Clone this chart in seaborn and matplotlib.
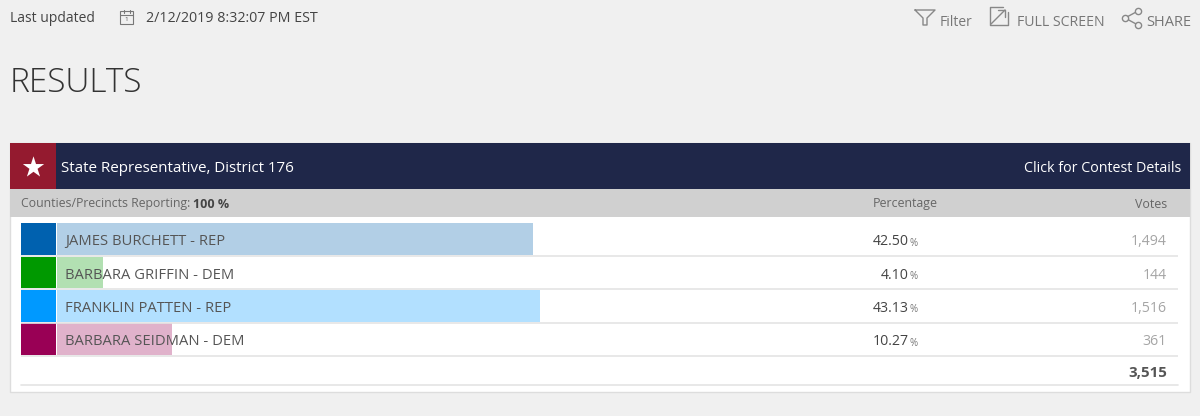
#!/usr/bin/env python3
# -*- coding: utf-8 -*-
"""Election results panel: State Representative, District 176"""

import pandas as pd
import seaborn as sns
import matplotlib.pyplot as plt
from matplotlib.patches import Rectangle

# ============================================================================
# 1. DATA
# ============================================================================
candidates = ["JAMES BURCHETT - REP", "BARBARA GRIFFIN - DEM",
              "FRANKLIN PATTEN - REP", "BARBARA SEIDMAN - DEM"]
percentages = [42.50, 4.10, 43.13, 10.27]
votes = ["1,494", "144", "1,516", "361"]
total_votes = "3,515"
swatch_colors = ["#0061AF", "#009900", "#0099FF", "#990055"]

WIDTH, HEIGHT = 1200, 416
BG = "#F0F0F0"
TEXT = "#555555"

sns.set_theme(style="white")
plt.rcParams['font.family'] = ['Open Sans', 'DejaVu Sans']

fig = plt.figure(figsize=(WIDTH / 100, HEIGHT / 100), dpi=100, facecolor=BG)

# ============================================================================
# 2. PAGE CHROME (pixel coordinates)
# ============================================================================
page = fig.add_axes([0, 0, 1, 1])
page.set_xlim(0, WIDTH)
page.set_ylim(HEIGHT, 0)
page.axis("off")


def box(x0, y0, x1, y1, color, **kw):
    page.add_patch(Rectangle((x0, y0), x1 - x0, y1 - y0, facecolor=color,
                             edgecolor=kw.pop("edgecolor", "none"), **kw))


page.text(10, 19, "Last updated", fontsize=10, color="#444444", va="center")
page.text(146, 19, "2/12/2019 8:32:07 PM EST", fontsize=10.3, color="#444444", va="center")
page.text(10, 83, "RESULTS", fontsize=24, color="#333333", va="center",
          family=["Open Sans"], fontweight="light")

# calendar icon
icon = dict(color="#777777", lw=0.8)
box(120, 11, 133, 23.5, "none", edgecolor="#777777", linewidth=0.8)
page.plot([120, 133], [14.5, 14.5], **icon)
page.plot([123.5, 123.5], [10, 12.5], **icon)
page.plot([129.5, 129.5], [10, 12.5], **icon)
page.text(126.5, 19.5, "1", fontsize=4.5, color="#555555", ha="center", va="center")

# filter icon
page.plot([915, 935, 927, 927, 923, 923, 915], [10, 10, 18, 25, 25, 18, 10], color="#888888", lw=1)
page.text(940, 22, "Filter", fontsize=10, color="#777777", va="center")

# full screen icon
page.plot([1003, 990, 990, 1008, 1008], [7, 7, 25, 25, 12], color="#888888", lw=1)
page.plot([991, 1005], [24, 10], color="#888888", lw=1)
page.plot([998, 1005, 1005], [10, 10, 17], color="#888888", lw=1)
page.text(1017, 22, "FULL SCREEN", fontsize=10.2, color="#777777", va="center")

# share icon
page.plot([1138, 1125, 1138], [11, 18, 25], color="#888888", lw=1, zorder=2)
page.scatter([1138, 1125, 1138], [11, 18, 25], s=20, facecolor=BG, edgecolor="#888888", linewidth=1, zorder=3)
page.text(1146, 22, "SHARE", fontsize=10.5, color="#777777", va="center")

# panel, header and reporting strip
box(10, 143, 1190, 392, "white", edgecolor="#DDDDDD", linewidth=1)
box(10, 143, 1190, 189, "#1F2749")
box(10, 143, 56, 189, "#941A2F")
box(10, 189, 1190, 217, "#D0D0D0")
page.scatter([33], [166.5], marker="*", s=260, color="white", linewidth=0, zorder=3)
page.text(61, 169, "State Representative, District 176", fontsize=10.9, color="white", va="center")
page.text(1181, 169, "Click for Contest Details", fontsize=10.3, color="white", va="center", ha="right")
rep = page.text(21, 204, "Counties/Precincts Reporting: ", fontsize=8.8, color="#666666", va="center")
page.annotate("100 %", xy=(1, 0.5), xycoords=rep, va="center", fontsize=9,
              color="#444444", fontweight="bold")
page.text(873, 204, "Percentage", fontsize=8.9, color="#666666", va="center")
page.text(1167, 204, "Votes", fontsize=8.9, color="#666666", va="center", ha="right")

# ============================================================================
# 3. RESULT BARS
# ============================================================================
df = pd.DataFrame({"candidate": candidates, "pct": percentages})

# 100% spans 57..1177 px on the page, rows sit between y=222.5 and y=356
PX_LEFT, PX_RIGHT, PX_TOP, PX_BOTTOM = 21, 1178, 222.5, 356
PX_PER_PCT = 11.2
ax = fig.add_axes([PX_LEFT / WIDTH, 1 - PX_BOTTOM / HEIGHT,
                   (PX_RIGHT - PX_LEFT) / WIDTH, (PX_BOTTOM - PX_TOP) / HEIGHT])
ax.patch.set_alpha(0)

sns.barplot(data=df, x="pct", y="candidate", hue="candidate", palette=swatch_colors,
            order=candidates, hue_order=candidates, dodge=False, legend=False,
            saturation=1, alpha=0.3, width=0.95, linewidth=0, ax=ax)

# solid party swatch to the left of zero
swatch_w = 35 / PX_PER_PCT
ax.barh(range(len(candidates)), [swatch_w] * len(candidates), left=-36 / PX_PER_PCT,
        height=0.95, color=swatch_colors, linewidth=0)

ax.set_xlim((PX_LEFT - 57) / PX_PER_PCT, (PX_RIGHT - 57) / PX_PER_PCT)
ax.set_ylim(3.5, -0.5)
ax.set_xlabel("")
ax.set_ylabel("")
ax.set_xticks([])
ax.set_yticks([])
sns.despine(ax=ax, left=True, bottom=True, top=True, right=True)
ax.hlines([i + 0.5 for i in range(len(candidates))], ax.get_xlim()[0], ax.get_xlim()[1],
          color="#E4E4E4", lw=1.2, clip_on=False)

for i, (name, pct, vote) in enumerate(zip(candidates, percentages, votes)):
    ax.text(8 / PX_PER_PCT, i + 0.08, name, fontsize=10.65, color=TEXT, va="center")
    ax.text((909 - 57) / PX_PER_PCT, i + 0.08, f"{pct:.2f}", fontsize=10.2, color="#444444",
            va="center", ha="right")
    ax.text((917.5 - 57) / PX_PER_PCT, i + 0.12, "%", fontsize=7, color="#777777",
            va="center", ha="right")
    ax.text((1167 - 57) / PX_PER_PCT, i + 0.08, vote, fontsize=10.2, color="#A5A5A5",
            va="center", ha="right")

# total row and closing rule
page.text(1167, 373, total_votes, fontsize=10.8, color="#555555", va="center", ha="right",
          fontweight="bold")
page.plot([21, 1178], [384.5, 384.5], color="#E4E4E4", lw=1.2)

fig.savefig("out.png", dpi=100, facecolor=BG)
plt.close(fig)
